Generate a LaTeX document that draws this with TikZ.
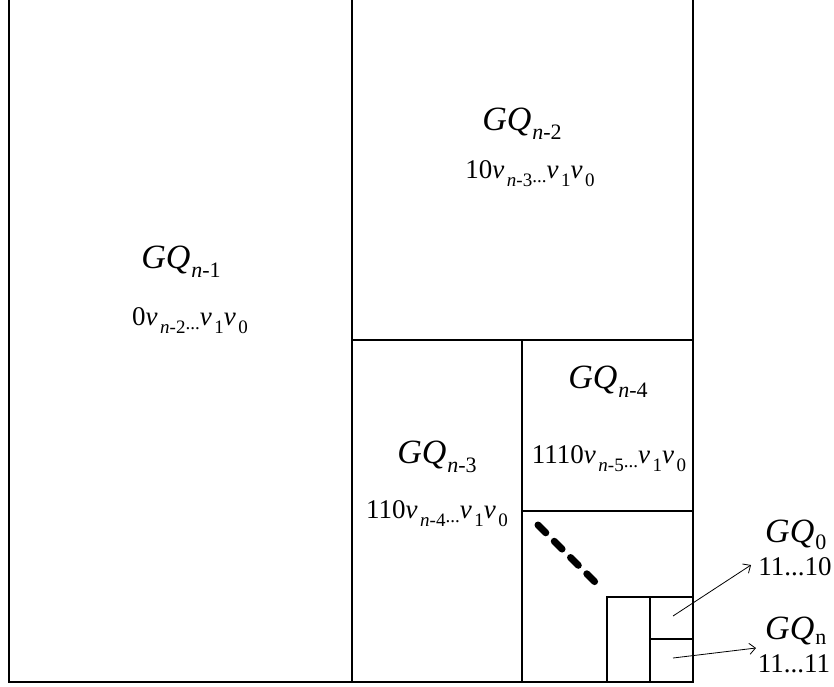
\documentclass[tikz,border=0pt]{standalone}
\usepackage{fontspec}
\setmainfont{Liberation Serif}
\usetikzlibrary{arrows.meta}
\newcommand{\GQ}[2][-9pt]{{\fontsize{34}{34}\selectfont\textit{GQ}}\kern1pt\raisebox{#1}{\fontsize{22}{22}\selectfont #2}}
\newcommand{\vs}[1]{\textit{v}\kern2.5pt\raisebox{-8pt}{\fontsize{19}{19}\selectfont #1}}
\newcommand{\dts}{\raisebox{-4pt}{\fontsize{19}{19}\selectfont ...}}
\newcommand{\addr}[2]{{\fontsize{27}{27}\selectfont #1\vs{\textit{n}-#2}\dts\vs{1}\vs{0}}}
\begin{document}
\begin{tikzpicture}[x=1pt,y=-1pt,
  box/.style={line width=1.2pt},
  lbl/.style={inner sep=0pt, anchor=base},
  lblw/.style={inner sep=0pt, anchor=base west},
  arr/.style={line width=0.8pt, -{Straight Barb[length=6pt,width=11pt]}},
  dotline/.style={line width=7pt, line cap=round, dash pattern=on 11pt off 12pt}]
\useasboundingbox (0,0) rectangle (834,686);
% outer frame (top edge not shown)
\draw[box] (9,-3) -- (9,682) -- (693,682) -- (693,-3);
\draw[box] (352,-3) -- (352,682);
\draw[box] (352,340) -- (693,340);
\draw[box] (522,340) -- (522,682);
\draw[box] (522,511) -- (693,511);
\draw[box] (607,682) -- (607,597) -- (693,597);
\draw[box] (650,597) -- (650,682);
\draw[box] (650,639) -- (693,639);
% dashed diagonal
\draw[dotline] (538,525) -- (595,582);
% labels
\node[lbl] (g1) at (181,268) {\GQ{\textit{n}-1}};
\node[lbl] (a1) at (190,325) {\addr{0}{2}};
\node[lbl] (g2) at (522,130) {\GQ{\textit{n}-2}};
\node[lbl] (a2) at (530,178) {\addr{10}{3}};
\node[lbl] (g3) at (437,463) {\GQ{\textit{n}-3}};
\node[lbl] (a3) at (437,518) {\addr{110}{4}};
\node[lbl] (g4) at (608,388) {\GQ{\textit{n}-4}};
\node[lbl] (a4) at (609,463) {\addr{1110}{5}};
\node[lblw] (g0) at (765,542) {\GQ[-7pt]{0}};
\node[lbl] (l0) at (795,575) {\fontsize{27}{27}\selectfont 11...10};
\node[lblw] (gn) at (765,639) {\GQ[-5pt]{n}};
\node[lbl] (ln) at (794,672) {\fontsize{27}{27}\selectfont 11...11};
% arrows
\coordinate (s1) at (673,616);
\coordinate (t1) at (751,565);
\coordinate (s2) at (673,658);
\coordinate (t2) at (756,648);
\draw[arr] (s1) -- (t1);
\draw[arr] (s2) -- (t2);
\end{tikzpicture}
\end{document}
